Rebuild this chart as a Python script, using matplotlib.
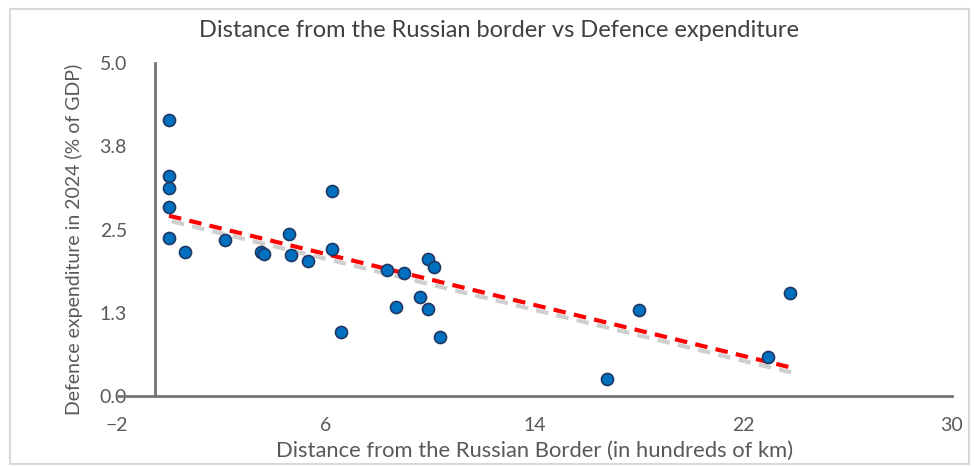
import matplotlib.pyplot as plt
import matplotlib.patheffects as pe
import numpy as np

# distance from Russian border (hundreds of km) and defence spend 2024 (% of GDP)
distance = [0, 0, 0, 0, 0, 0.63, 2.15, 3.52, 3.64, 4.58, 4.69, 5.34, 6.26, 6.26,
            6.58, 8.34, 9.01, 9.94, 10.17, 9.62, 8.69, 9.93, 10.38,
            18.01, 16.79, 22.95, 23.80]
spend = [4.15, 3.31, 3.13, 2.84, 2.38, 2.16, 2.34, 2.16, 2.13, 2.43, 2.11, 2.02, 3.08, 2.20,
         0.96, 1.89, 1.85, 2.06, 1.94, 1.49, 1.33, 1.31, 0.89,
         1.29, 0.26, 0.58, 1.55]

xticks = [-2, 6, 14, 22, 30]
yticks = [0, 1.25, 2.5, 3.75, 5.0]
ytick_labels = ['0.0', '1.3', '2.5', '3.8', '5.0']

grey = '#595959'
plt.rcParams['font.family'] = ['Lato', 'DejaVu Sans']

fig = plt.figure(figsize=(9.74, 4.66), dpi=100)
ax = fig.add_axes([0.120, 0.150, 0.857, 0.715])

x = np.array(distance)
y = np.array(spend)

# linear trend line, with a soft grey shadow like Excel
k, b = np.polyfit(x, y, 1)
xs = np.array([x.min(), x.max()])
ax.plot(xs, k * xs + b, color='red', lw=3, ls=(0, (3, 2)), zorder=2,
        path_effects=[pe.SimpleLineShadow(offset=(2, -4), shadow_color='#a0a0a0', alpha=0.5),
                      pe.Normal()])

ax.scatter(x, y, s=75, color='#0070C0', edgecolor='#1F3864', linewidth=1.2, zorder=3)

ax.set_xlim(-2, 30)
ax.set_ylim(0, 5)
ax.set_xticks(xticks)
ax.set_yticks(yticks)
ax.set_yticklabels(ytick_labels)

for s in ['top', 'right']:
    ax.spines[s].set_visible(False)
ax.spines['left'].set_position(('data', -0.55))
for s in ['left', 'bottom']:
    ax.spines[s].set_color('#767676')
    ax.spines[s].set_linewidth(2)

ax.tick_params(axis='both', length=0, labelsize=14, labelcolor=grey)
ax.tick_params(axis='y', pad=20)
ax.tick_params(axis='x', pad=15)

ax.set_xlabel('Distance from the Russian Border (in hundreds of km)', fontsize=15.8, color=grey, labelpad=5)
ax.set_ylabel('Defence expenditure in 2024 (% of GDP)', fontsize=14, color=grey)
ax.yaxis.set_label_coords(-0.04, 0.47)

fig.text(0.512, 0.935, 'Distance from the Russian border vs Defence expenditure',
         ha='center', va='center', fontsize=17, color='#404040')

# chart area border
fig.patches.append(plt.Rectangle((0.01, 0.005), 0.985, 0.975, transform=fig.transFigure,
                                 fill=False, edgecolor='#d9d9d9', lw=1.5))

fig.savefig('out.png', dpi=100)
